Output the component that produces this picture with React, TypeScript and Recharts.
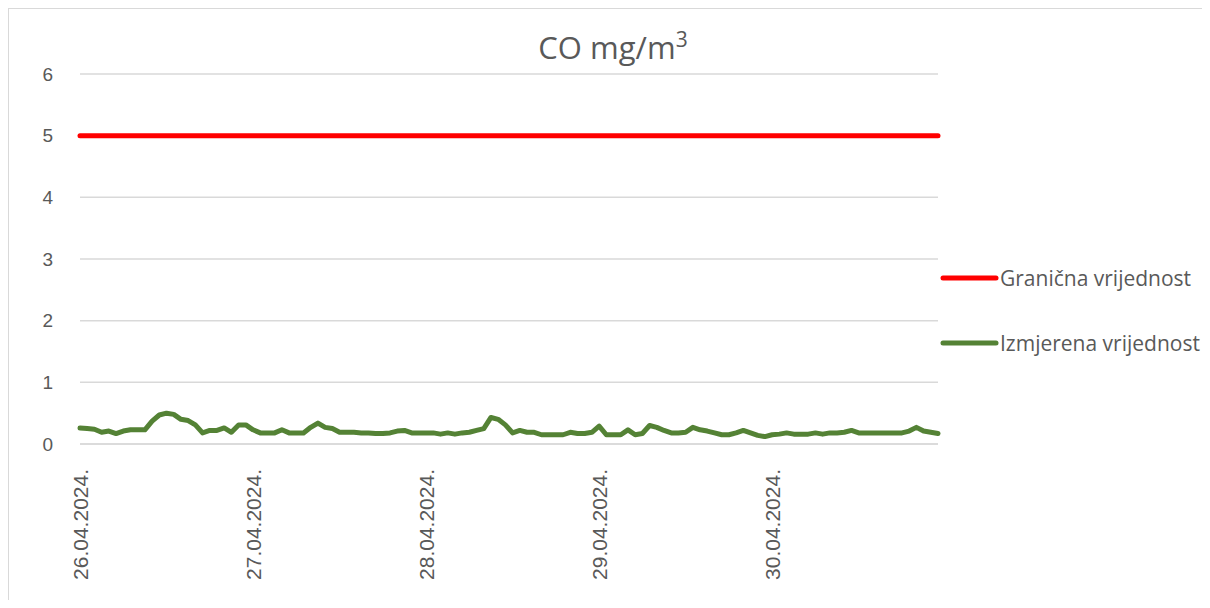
import React from "react";
import { LineChart, Line, XAxis, YAxis, CartesianGrid, Legend } from "recharts";

const dates = ["26.04.2024.", "27.04.2024.", "28.04.2024.", "29.04.2024.", "30.04.2024."];
const hoursPerDay = 24;

const measured = [
  0.26, 0.25, 0.24, 0.19, 0.21, 0.17, 0.21, 0.23, 0.23, 0.23,
  0.37, 0.47, 0.5, 0.48, 0.4, 0.38, 0.31, 0.18, 0.22, 0.22,
  0.26, 0.19, 0.31, 0.31, 0.23, 0.18, 0.18, 0.18, 0.23, 0.18,
  0.18, 0.18, 0.27, 0.34, 0.27, 0.25, 0.19, 0.19, 0.19, 0.18,
  0.18, 0.17, 0.17, 0.18, 0.21, 0.22, 0.18, 0.18, 0.18, 0.18,
  0.16, 0.18, 0.16, 0.18, 0.19, 0.22, 0.25, 0.43, 0.4, 0.31,
  0.18, 0.22, 0.19, 0.19, 0.15, 0.15, 0.15, 0.15, 0.19, 0.17,
  0.17, 0.19, 0.29, 0.15, 0.15, 0.15, 0.23, 0.15, 0.17, 0.3,
  0.27, 0.22, 0.18, 0.18, 0.19, 0.27, 0.23, 0.21, 0.18, 0.15,
  0.15, 0.18, 0.22, 0.18, 0.14, 0.12, 0.15, 0.16, 0.18, 0.16,
  0.16, 0.16, 0.18, 0.16, 0.18, 0.18, 0.19, 0.22, 0.18, 0.18,
  0.18, 0.18, 0.18, 0.18, 0.18, 0.21, 0.27, 0.21, 0.19, 0.17,
];

const limitValue = 5;
const yTicks = [0, 1, 2, 3, 4, 5, 6];

const seriesInfo = [
  { key: "limit", name: "Granična vrijednost", color: "#ff0000" },
  { key: "measured", name: "Izmjerena vrijednost", color: "#548235" },
];

const data = measured.map((v, i) => ({
  time: `${dates[Math.floor(i / hoursPerDay)]} ${String(i % hoursPerDay).padStart(2, "0")}:00`,
  measured: v,
  limit: limitValue,
}));

const textColor = "#595959";
const gridColor = "#d9d9d9";

const XTick = (props: any) => {
  const { x, y, payload } = props;
  const label = String(payload.value).split(" ")[0];
  const ty = y + 17;
  return (
    <text
      x={x}
      y={ty}
      transform={`rotate(-90, ${x}, ${ty})`}
      textAnchor="end"
      dy="0.36em"
      fill={textColor}
      fontSize={21}
      fontFamily="'Liberation Sans', Arial, sans-serif"
    >
      {label}
    </text>
  );
};

const LegendContent = () => (
  <div style={{ fontFamily: "'Open Sans', sans-serif", fontSize: 21, color: textColor }}>
    {seriesInfo.map((s, idx) => (
      <div
        key={s.key}
        style={{ display: "flex", alignItems: "center", height: 28, marginTop: idx === 0 ? 0 : 37 }}
      >
        <svg width={60} height={10} style={{ display: "block" }}>
          <line x1={4} y1={5} x2={57} y2={5} stroke={s.color} strokeWidth={5} strokeLinecap="round" />
        </svg>
        <span style={{ marginLeft: 1, whiteSpace: "nowrap" }}>{s.name}</span>
      </div>
    ))}
  </div>
);

export default function App() {
  return (
    <div
      style={{
        position: "relative",
        width: 1193,
        height: 591,
        borderLeft: `1px solid ${gridColor}`,
        borderTop: `1px solid ${gridColor}`,
        background: "#fff",
      }}
    >
      <div
        style={{
          position: "absolute",
          left: 0,
          top: 23,
          width: 1208,
          textAlign: "center",
          fontFamily: "'Open Sans', sans-serif",
          fontSize: 31,
          lineHeight: 1,
          color: textColor,
          zIndex: 2,
        }}
      >
        CO mg/m<sup style={{ fontSize: 21, verticalAlign: "top", position: "relative", top: -3 }}>3</sup>
      </div>
      <LineChart
        width={1193}
        height={591}
        data={data}
        margin={{ top: 65, right: 264, bottom: 0, left: 0 }}
      >
        <CartesianGrid vertical={false} stroke={gridColor} strokeWidth={1.5} />
        <XAxis
          dataKey="time"
          interval={23}
          height={156}
          tick={<XTick />}
          tickLine={false}
          axisLine={{ stroke: gridColor, strokeWidth: 1.5 }}
          padding={{ left: 0, right: 0 }}
        />
        <YAxis
          width={71}
          domain={[0, 6]}
          ticks={yTicks}
          tickSize={0}
          tickMargin={27}
          tickLine={false}
          axisLine={false}
          tick={{ fill: textColor, fontSize: 19, fontFamily: "'Liberation Sans', Arial, sans-serif" }}
        />
        <Legend
          layout="horizontal"
          verticalAlign="middle"
          align="center"
          content={<LegendContent />}
          wrapperStyle={{ left: 930, top: 255, width: 270 }}
        />
        {seriesInfo.map((s) => (
          <Line
            key={s.key}
            type="linear"
            dataKey={s.key}
            name={s.name}
            stroke={s.color}
            strokeWidth={5}
            dot={false}
            activeDot={false}
            isAnimationActive={false}
            strokeLinecap="round"
            strokeLinejoin="round"
          />
        ))}
      </LineChart>
    </div>
  );
}
